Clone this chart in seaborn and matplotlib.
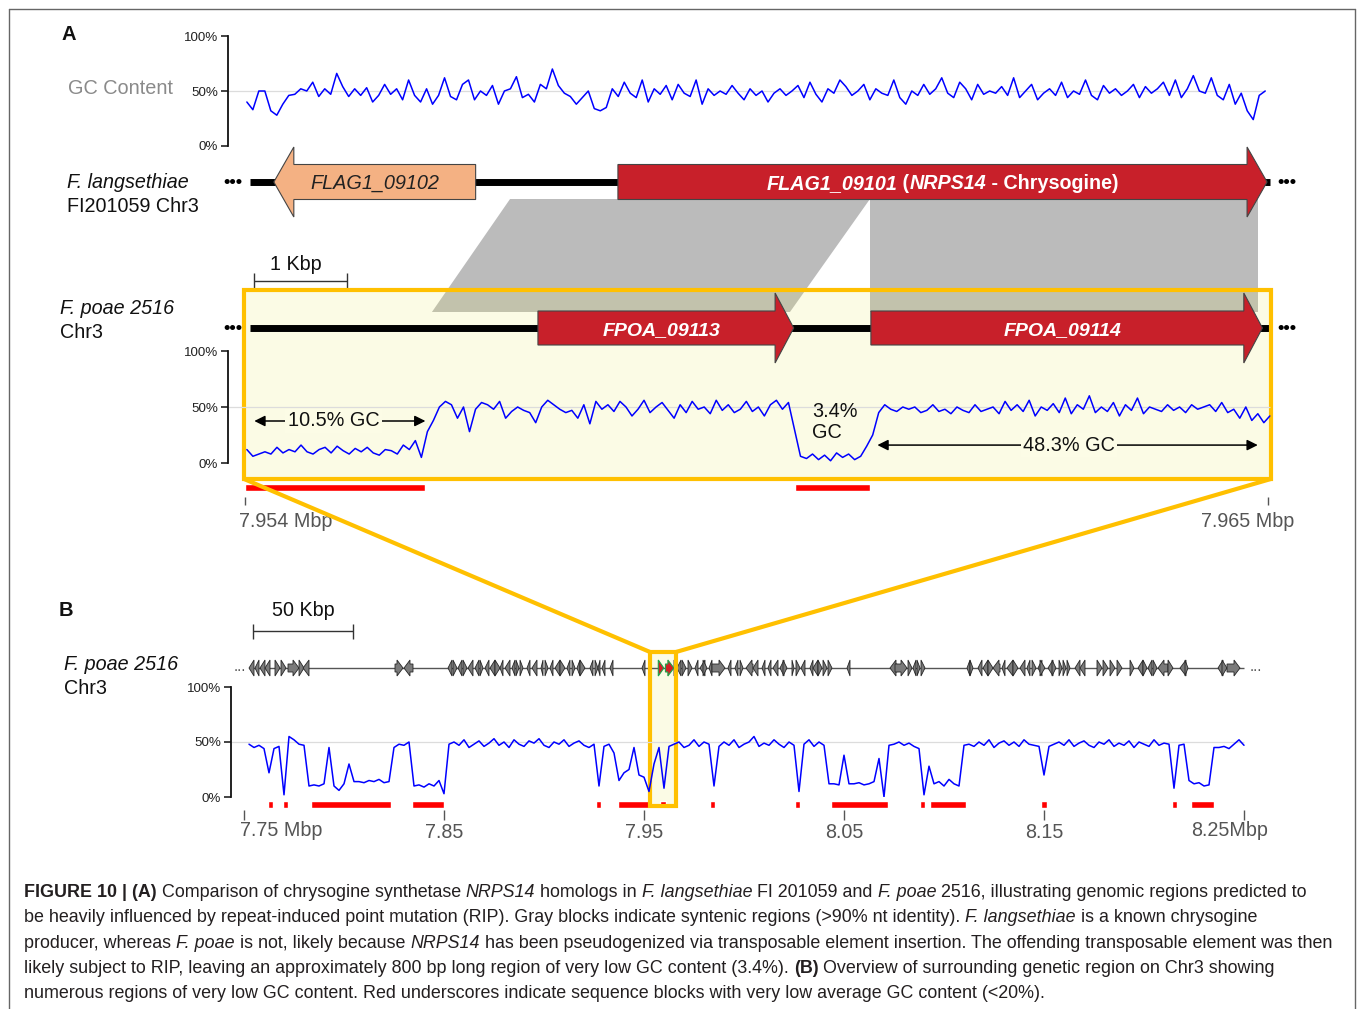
import numpy as np
import matplotlib
matplotlib.use("Agg")
import matplotlib.pyplot as plt
import seaborn as sns
from matplotlib.patches import Polygon, Rectangle, ConnectionPatch
from matplotlib.lines import Line2D
from matplotlib.transforms import IdentityTransform
from matplotlib import font_manager as fm

# ---------------------------------------------------------------- data
# Panel A, GC content (%) of F. langsethiae window (x in kb, display-aligned)
gc_top = [40, 33, 50, 50, 32, 28, 38, 46, 47, 52,
          50, 58, 45, 52, 47, 66, 54, 45, 52, 46,
          53, 40, 46, 56, 47, 52, 42, 60, 46, 40,
          52, 38, 46, 62, 45, 42, 56, 60, 42, 50,
          46, 55, 38, 50, 52, 63, 44, 47, 40, 56,
          52, 70, 55, 48, 45, 38, 44, 50, 34, 32,
          35, 52, 45, 58, 48, 44, 60, 40, 52, 47,
          55, 42, 56, 48, 45, 60, 38, 52, 46, 50,
          47, 55, 48, 42, 52, 46, 50, 40, 48, 52,
          46, 50, 55, 44, 58, 47, 40, 52, 48, 60,
          54, 46, 50, 56, 42, 52, 48, 46, 60, 44,
          38, 50, 46, 56, 47, 52, 62, 48, 44, 58,
          52, 42, 56, 47, 50, 48, 54, 46, 62, 44,
          50, 56, 42, 48, 52, 46, 58, 44, 50, 47,
          60, 46, 42, 55, 48, 52, 46, 50, 56, 44,
          54, 48, 52, 58, 46, 60, 44, 52, 64, 50,
          48, 62, 46, 42, 56, 38, 48, 32, 24, 46, 50]
gc_top_range_kb = (7954.02, 7964.97)

# Panel A, GC content (%) of F. poae 2516 window
gc_mid = [12, 6, 8, 10, 8, 14, 9, 12, 10, 16,
          10, 8, 12, 14, 9, 15, 11, 8, 13, 10,
          14, 9, 7, 12, 11, 8, 16, 12, 20, 5,
          28, 38, 50, 55, 52, 40, 50, 28, 48, 54,
          52, 48, 55, 40, 46, 50, 47, 45, 36, 50,
          56, 52, 48, 45, 47, 40, 52, 35, 55, 48,
          52, 46, 55, 50, 42, 48, 56, 45, 50, 54,
          47, 40, 52, 45, 55, 48, 50, 44, 56, 47,
          52, 45, 48, 55, 46, 50, 42, 52, 56, 48,
          54, 30, 6, 4, 8, 3, 7, 2, 9, 5,
          8, 3, 6, 15, 25, 45, 52, 48, 46, 50,
          48, 50, 45, 47, 52, 46, 48, 44, 50, 47,
          45, 52, 46, 48, 50, 44, 55, 47, 52, 46,
          56, 42, 50, 47, 53, 45, 58, 44, 52, 48,
          60, 45, 50, 46, 54, 42, 52, 47, 58, 44,
          50, 48, 46, 52, 47, 50, 45, 52, 48, 50,
          52, 46, 54, 45, 48, 40, 50, 38, 44, 36, 42]
gc_mid_range_kb = (7954.02, 7965.02)

# Panel B, GC content (%) of F. poae 2516 Chr3 region (x in kb)
gc_b = [48, 45, 47, 44, 22, 44, 46, 2, 55, 52, 48, 47, 10, 11, 10, 12, 45, 10, 6, 12,
        30, 14, 14, 13, 15, 14, 16, 13, 14, 45, 48, 47, 50, 10, 11, 9, 12, 10, 15, 3,
        48, 50, 47, 52, 45, 48, 51, 46, 49, 53, 47, 50, 45, 52, 48, 46, 51, 49, 53, 47,
        45, 50, 48, 52, 46, 49, 51, 47, 45, 48, 10, 46, 48, 40, 15, 22, 25, 45, 20, 18,
        5, 30, 45, 8, 46, 48, 50, 45, 47, 52, 46, 50, 48, 10, 46, 50, 47, 52, 45, 48,
        50, 55, 46, 49, 47, 52, 48, 45, 50, 47, 5, 48, 52, 46, 50, 47, 12, 12, 11, 38,
        12, 12, 13, 11, 12, 14, 35, 0, 47, 48, 50, 47, 49, 46, 44, 2, 28, 12, 14, 10,
        16, 12, 10, 47, 48, 46, 50, 47, 52, 45, 49, 51, 47, 50, 46, 52, 48, 47, 46, 20,
        46, 48, 50, 47, 52, 46, 49, 51, 47, 45, 50, 48, 52, 46, 49, 47, 51, 45, 50, 48,
        46, 52, 47, 49, 48, 8, 47, 48, 15, 12, 13, 10, 11, 45, 45, 46, 44, 48, 52, 47]
gc_b_range_kb = (7752.5, 8250.0)

# Panel A genes
top_names = ["FLAG1_09102", "FLAG1_09101"]
top_start = [7954.31, 7958.01]
top_end = [7956.48, 7964.99]
top_strand = [-1, 1]
mid_names = ["FPOA_09113", "FPOA_09114"]
mid_start = [7957.15, 7960.73]
mid_end = [7959.90, 7964.94]
mid_strand = [1, 1]
track_a_range = (7954.05, 7965.02)

# synteny blocks: (top start, top end, bottom start, bottom end) in kb
syn_top_start = [7956.85, 7960.72]
syn_top_end = [7960.72, 7964.89]
syn_bot_start = [7956.01, 7960.72]
syn_bot_end = [7959.86, 7964.89]

# low-GC blocks (<20 %) in panel A
lowgc_a_start = [7954.00, 7959.91]
lowgc_a_end = [7955.94, 7960.72]
zoom_a = (7953.99, 7965.03)
a_ticks = [7954, 7965]
a_ticklabels = ["7.954 Mbp", "7.965 Mbp"]

# Panel B genes (start kb, end kb, strand)
b_genes = [
    (7752.5, 7755, -1), (7755.5, 7757.5, -1), (7758, 7760.5, -1), (7760.5, 7763, -1),
    (7765.5, 7768, 1), (7768.5, 7771, 1), (7772, 7777.5, 1), (7777.5, 7780, 1),
    (7779.5, 7782.5, -1), (7825.5, 7829.5, 1), (7830, 7834.5, -1),
    (7852, 7854, -1), (7854.5, 7856.5, 1), (7857, 7859, -1), (7859.5, 7861.5, 1),
    (7862, 7864.5, -1), (7865.5, 7867.5, -1), (7868, 7869.5, 1), (7870.5, 7872.5, -1),
    (7873, 7875.5, -1), (7875.5, 7878, 1), (7878, 7879.5, -1), (7880.5, 7883, -1),
    (7884, 7885.5, -1), (7886, 7887.5, 1), (7888, 7889.5, 1), (7891.5, 7893, -1),
    (7894, 7896.5, -1), (7898.5, 7899.5, -1), (7900.5, 7902, 1), (7903, 7904.5, -1),
    (7905.5, 7908, -1), (7908, 7910.5, 1), (7911.5, 7913, -1), (7914, 7915.5, 1),
    (7916.5, 7918, -1), (7918, 7920.5, 1), (7923, 7924.5, -1), (7925.5, 7927, 1),
    (7927, 7928, -1), (7929, 7930.5, -1), (7933, 7934.5, -1), (7949, 7950.5, -1),
    (7965, 7967, 1), (7966.5, 7968.5, -1), (7969, 7971, 1), (7972, 7974, 1),
    (7975.5, 7977, -1), (7978, 7980.5, -1), (7979.5, 7981.5, 1), (7982.5, 7984, -1),
    (7984, 7990.5, 1), (7992, 7993.5, -1), (7995.5, 7997, -1), (7998, 7999.5, 1),
    (8001, 8004.5, -1), (8004.5, 8007, -1), (8009, 8010.5, -1), (8012, 8013.5, -1),
    (8014.5, 8017, -1), (8018, 8020, -1), (8019.5, 8021.5, 1), (8024, 8025, 1),
    (8026, 8028, 1), (8028.5, 8030.5, -1), (8033, 8034.5, -1), (8034.5, 8037, -1),
    (8037, 8039, 1), (8039.5, 8041.5, 1), (8042, 8044, 1), (8051.5, 8053, -1),
    (8073, 8076.5, -1), (8075.5, 8081.5, 1), (8082, 8084, 1), (8084.5, 8086, -1),
    (8086.5, 8088, 1), (8088.5, 8090.5, 1),
    (8111.5, 8113, -1), (8113, 8114.5, 1), (8117, 8119, -1), (8119.5, 8122, -1),
    (8122, 8124.5, 1), (8124.5, 8128, -1), (8129, 8130.5, -1), (8131.5, 8134.5, -1),
    (8134.5, 8137, 1), (8138, 8140.5, -1), (8141.5, 8143, -1), (8144, 8146, 1),
    (8147, 8149, -1), (8148, 8150.5, 1), (8152, 8154.5, -1), (8154, 8156, 1),
    (8157.5, 8159, 1), (8159.5, 8161, 1), (8161.5, 8163, 1), (8165.5, 8168, -1),
    (8168, 8170.5, -1), (8176.5, 8179, 1), (8179.5, 8182, 1), (8183, 8185.5, 1),
    (8186.5, 8189, 1), (8193, 8195, 1), (8197, 8199.5, -1), (8199.5, 8201.5, 1),
    (8202, 8204, -1), (8204.5, 8206.5, 1), (8207, 8212, -1), (8212, 8214.5, 1),
    (8218, 8221, -1), (8220.5, 8222, 1), (8237, 8239.5, -1), (8239, 8241.5, 1),
    (8241.5, 8248, 1),
]
track_b_range = (7752.5, 8250.0)
lowgc_b_start = [7762, 7769.5, 7783.5, 7834, 7926, 7937, 7958, 7983, 8025.5, 8043.5,
                 8088, 8093, 8148.5, 8214, 8223.5]
lowgc_b_end = [7764.5, 7772, 7823.5, 7850, 7928.5, 7953, 7961, 7985.5, 8028, 8072,
               8090.5, 8111, 8151.5, 8216.5, 8235]
zoom_b = (7953.0, 7966.0)
b_ticks = [7750, 7850, 7950, 8050, 8150, 8250]
b_ticklabels = ["7.75 Mbp", "7.85", "7.95", "8.05", "8.15", "8.25Mbp"]

caption = [
    [("FIGURE 10 | (A)", "b"), (" Comparison of chrysogine synthetase ", "n"), ("NRPS14", "i"),
     (" homologs in ", "n"), ("F. langsethiae", "i"), (" FI 201059 and ", "n"), ("F. poae", "i"),
     (" 2516, illustrating genomic regions predicted to", "n")],
    [("be heavily influenced by repeat-induced point mutation (RIP). Gray blocks indicate syntenic "
      "regions (>90% nt identity). ", "n"), ("F. langsethiae", "i"), (" is a known chrysogine", "n")],
    [("producer, whereas ", "n"), ("F. poae", "i"), (" is not, likely because ", "n"), ("NRPS14", "i"),
     (" has been pseudogenized via transposable element insertion. The offending transposable "
      "element was then", "n")],
    [("likely subject to RIP, leaving an approximately 800 bp long region of very low GC content "
      "(3.4%). ", "n"), ("(B)", "b"), (" Overview of surrounding genetic region on Chr3 showing", "n")],
    [("numerous regions of very low GC content. Red underscores indicate sequence blocks with very "
      "low average GC content (<20%).", "n")],
]

# ---------------------------------------------------------------- style
sns.set_theme(style="white")
plt.rcParams["font.family"] = ["Liberation Sans", "DejaVu Sans"]


def has_font(name):
    try:
        fm.findfont(fm.FontProperties(family=name), fallback_to_default=False)
        return True
    except Exception:
        return False


NARROW = "Liberation Sans Narrow" if has_font("Liberation Sans Narrow") else "Liberation Sans"
NARROW_SIZE = 10.5 if NARROW == "Liberation Sans Narrow" else 9.6

RED = "#C8202A"
SALMON = "#F4B183"
YEL = "#FFC000"
BOXFILL = (0.925, 0.925, 0.39, 0.16)
BLUE = "#0000FF"
W, H = 1357, 1009
fig = plt.figure(figsize=(W / 100, H / 100), dpi=100)
fig.patch.set_facecolor("white")


def a_kb(px):
    return 7954 + (px - 245) / 93.0


def b_kb(px):
    return 7750 + (px - 244) / 2.0


def add_ax(x0, y0, x1, y1):
    ax = fig.add_axes([x0 / W, 1 - y1 / H, (x1 - x0) / W, (y1 - y0) / H])
    ax.patch.set_alpha(0)
    return ax


STY = {"n": ("normal", "normal"), "i": ("normal", "italic"),
       "b": ("bold", "normal"), "bi": ("bold", "italic")}
renderer = fig.canvas.get_renderer()


def run_width(s, size, sty):
    w, st = STY[sty]
    t1 = fig.text(0, 0, "|" + s + "|", fontsize=size, fontweight=w, fontstyle=st,
                  transform=IdentityTransform())
    t2 = fig.text(0, 0, "||", fontsize=size, fontweight=w, fontstyle=st,
                  transform=IdentityTransform())
    wd = t1.get_window_extent(renderer).width - t2.get_window_extent(renderer).width
    t1.remove()
    t2.remove()
    return wd


def draw_runs(xd, yd, runs, size, color, ha="left"):
    widths = [run_width(s, size, st) for s, st in runs]
    x = xd - (sum(widths) / 2 if ha == "center" else 0)
    for (s, st), wd in zip(runs, widths):
        w, sl = STY[st]
        fig.text(x, yd, s, fontsize=size, fontweight=w, fontstyle=sl, color=color,
                 ha="left", va="baseline", transform=IdentityTransform())
        x += wd


def gene_poly(s, e, strand, yc, body_h, head_h, head_len):
    hl = min(head_len, e - s)
    if strand > 0:
        b = e - hl
        return [(s, yc - body_h / 2), (b, yc - body_h / 2), (b, yc - head_h / 2), (e, yc),
                (b, yc + head_h / 2), (b, yc + body_h / 2), (s, yc + body_h / 2)]
    b = s + hl
    return [(e, yc - body_h / 2), (b, yc - body_h / 2), (b, yc - head_h / 2), (s, yc),
            (b, yc + head_h / 2), (b, yc + body_h / 2), (e, yc + body_h / 2)]


def gc_axes(x0, y0, x1, y1, kbmap, vals, rng, grid_end):
    ax = add_ax(x0, y0, x1, y1)
    xs = np.linspace(rng[0], rng[1], len(vals))
    sns.lineplot(x=xs, y=vals, ax=ax, color=BLUE, linewidth=1.1, estimator=None,
                 sort=False, legend=False, zorder=3)
    ax.hlines(50, kbmap(x0), grid_end, color="#dcdcdc", lw=0.9, zorder=1)
    ax.set_xlim(kbmap(x0), kbmap(x1))
    ax.set_ylim(0, 100)
    ax.set_xlabel("")
    ax.set_ylabel("")
    for s in ["top", "right", "bottom"]:
        ax.spines[s].set_visible(False)
    ax.spines["left"].set_linewidth(1.3)
    ax.spines["left"].set_color("#111111")
    ax.set_xticks([])
    ax.set_yticks([0, 50, 100])
    ax.set_yticklabels(["0%", "50%", "100%"])
    ax.tick_params(axis="y", left=True, direction="out", length=5, width=1.1, pad=2,
                   labelsize=NARROW_SIZE, color="#111111", labelcolor="#222222")
    for lab in ax.get_yticklabels():
        lab.set_fontfamily(NARROW)
    return ax


# ---------------------------------------------------------------- panel A
axA = add_ax(228, 140, 1300, 530)
axA.set_xlim(a_kb(228), a_kb(1300))
axA.set_ylim(530, 140)
axA.axis("off")

Y_TOP, Y_MID = 182, 328
# synteny blocks
for ts, te, bs, be in zip(syn_top_start, syn_top_end, syn_bot_start, syn_bot_end):
    axA.add_patch(Polygon([(ts, 199), (te, 199), (be, 312), (bs, 312)], closed=True,
                          facecolor="#BBBBBB", edgecolor="none", zorder=1))
# zoom box fill
axA.add_patch(Rectangle((zoom_a[0], 290), zoom_a[1] - zoom_a[0], 189, facecolor=BOXFILL,
                        edgecolor="none", zorder=2))
# tracks
for yc in (Y_TOP, Y_MID):
    axA.hlines(yc, track_a_range[0], track_a_range[1], color="black", lw=5, zorder=3)
    axA.text(track_a_range[0] - 0.08, yc, "\u2022\u2022\u2022", ha="right", va="center",
             fontsize=13, fontweight="bold", color="black", zorder=3)
    axA.text(track_a_range[1] + 0.08, yc, "\u2022\u2022\u2022", ha="left", va="center",
             fontsize=13, fontweight="bold", color="black", zorder=3)
# genes
for s, e, st, c in zip(top_start, top_end, top_strand, [SALMON, RED]):
    axA.add_patch(Polygon(gene_poly(s, e, st, Y_TOP, 35, 70, 0.215), closed=True,
                          facecolor=c, edgecolor="#444444", lw=0.8, zorder=4))
for s, e, st in zip(mid_start, mid_end, mid_strand):
    axA.add_patch(Polygon(gene_poly(s, e, st, Y_MID, 34, 70, 0.2), closed=True,
                          facecolor=RED, edgecolor="#444444", lw=0.8, zorder=4))
# box edge
axA.add_patch(Rectangle((zoom_a[0], 290), zoom_a[1] - zoom_a[0], 189, facecolor="none",
                        edgecolor=YEL, lw=3, zorder=6))
# low GC blocks
axA.broken_barh([(s, e - s) for s, e in zip(lowgc_a_start, lowgc_a_end)], (483.5, 7),
                facecolors="#FF0000", zorder=5)
# scale bar 1 kbp
sb0 = track_a_range[0] + 0.05
axA.hlines(281, sb0, sb0 + 1.0, color="#333333", lw=1)
axA.vlines([sb0, sb0 + 1.0], 273, 289, color="#333333", lw=1)
axA.text(sb0 + 0.45, 264, "1 Kbp", ha="center", va="center", fontsize=14.2, color="#111111")
# x ticks
axA.vlines(a_ticks, 497, 505, color="#555555", lw=1)
axA.text(a_ticks[0] - 0.06, 521, a_ticklabels[0], ha="left", va="center", fontsize=14.2,
         color="#555555")
axA.text(a_ticks[1] + 0.28, 521, a_ticklabels[1], ha="right", va="center", fontsize=14.2,
         color="#555555")

# gene labels
for s, e, nm in zip(top_start, top_end, top_names):
    xd, yd = axA.transData.transform(((s + e) / 2, Y_TOP))
    if nm == "FLAG1_09101":
        draw_runs(xd, yd - 7, [("FLAG1_09101", "bi"), (" (", "b"), ("NRPS14", "bi"),
                              (" - Chrysogine)", "b")], 14.2, "white", ha="center")
    else:
        draw_runs(xd, yd - 7, [(nm, "i")], 14.3, "#222222", ha="center")
for s, e, nm in zip(mid_start, mid_end, mid_names):
    xd, yd = axA.transData.transform(((s + e) / 2, Y_MID))
    draw_runs(xd - 4, yd - 7, [(nm, "bi")], 14, "white", ha="center")

# GC tracks of panel A
ax_gc1 = gc_axes(228, 36, 1300, 146, a_kb, gc_top, gc_top_range_kb, gc_top_range_kb[1])
ax_gc2 = gc_axes(228, 351, 1300, 463, a_kb, gc_mid, gc_mid_range_kb, gc_mid_range_kb[1])


# annotations on mid GC
def dbl_arrow(ax, x0, x1, y, label, xc):
    ax.annotate("", xy=(x0, y), xytext=(x1, y),
                arrowprops=dict(arrowstyle="<|-|>", color="black", lw=1.1, mutation_scale=16,
                                shrinkA=0, shrinkB=0), zorder=4)
    ax.text(xc, y, label, ha="center", va="center", fontsize=14.3, color="#111111", zorder=5,
            bbox=dict(boxstyle="square,pad=0.12", facecolor="#FCFCE6", edgecolor="none"))


dbl_arrow(ax_gc2, lowgc_a_start[0] + 0.1, lowgc_a_end[0], 37.5, "10.5% GC",
          (lowgc_a_start[0] + lowgc_a_end[0]) / 2 - 0.02)
dbl_arrow(ax_gc2, mid_start[1] + 0.07, syn_bot_end[1], 16, "48.3% GC",
          (mid_start[1] + syn_bot_end[1]) / 2 + 0.05)
ax_gc2.text(lowgc_a_start[1] + 0.19, 36.6, "3.4%\nGC", ha="left", va="center",
            fontsize=14.3, color="#111111", linespacing=1.15)

# ---------------------------------------------------------------- panel B
axB = add_ax(231, 595, 1290, 850)
axB.set_xlim(b_kb(231), b_kb(1290))
axB.set_ylim(850, 595)
axB.axis("off")
Y_B = 668
axB.add_patch(Rectangle((zoom_b[0], 652), zoom_b[1] - zoom_b[0], 154, facecolor=BOXFILL,
                        edgecolor="none", zorder=1))
axB.hlines(Y_B, track_b_range[0], track_b_range[1], color="#555555", lw=1, zorder=2)
axB.text(track_b_range[0] - 1.5, Y_B - 1, "...", ha="right", va="center", fontsize=11,
         color="#555555")
axB.text(track_b_range[1] + 3, Y_B - 1, "...", ha="left", va="center", fontsize=11,
         color="#555555")
for s, e, st in b_genes:
    axB.add_patch(Polygon(gene_poly(s, e, st, Y_B, 8, 16, 3.0), closed=True,
                          facecolor="#7a7a7a", edgecolor="#262626", lw=0.6, zorder=3))
for s, e, st in zip(mid_start, mid_end, mid_strand):
    axB.add_patch(Polygon(gene_poly(s, e, st, Y_B, 8, 16, 3.0), closed=True,
                          facecolor="#D22027", edgecolor="#1FA34A", lw=0.8, zorder=3))
axB.add_patch(Rectangle((zoom_b[0], 652), zoom_b[1] - zoom_b[0], 154, facecolor="none",
                        edgecolor=YEL, lw=3, zorder=6))
axB.broken_barh([(s, e - s) for s, e in zip(lowgc_b_start, lowgc_b_end)], (801, 6.5),
                facecolors="#FF0000", zorder=5)
# scale bar 50 kbp
sbb = track_b_range[0] + 2
axB.hlines(631, sbb, sbb + 50, color="#333333", lw=1)
axB.vlines([sbb, sbb + 50], 624, 639, color="#333333", lw=1)
axB.text(sbb + 25, 611, "50 Kbp", ha="center", va="center", fontsize=14.2, color="#111111")
# x ticks
axB.vlines(b_ticks, 810, 820, color="#555555", lw=1)
for i, (t, lab) in enumerate(zip(b_ticks, b_ticklabels)):
    if i == 0:
        axB.text(t - 2, 831, lab, ha="left", va="center", fontsize=14.2, color="#555555")
    elif i == len(b_ticks) - 1:
        axB.text(t + 12, 831, lab, ha="right", va="center", fontsize=14.2, color="#555555")
    else:
        axB.text(t, 832, lab, ha="center", va="center", fontsize=14.2, color="#555555")

ax_gcb = gc_axes(231, 687, 1290, 797, b_kb, gc_b, gc_b_range_kb, gc_b_range_kb[1])

# zoom connectors
for xa, xb in ((zoom_a[0], zoom_b[0]), (zoom_a[1], zoom_b[1])):
    con = ConnectionPatch(xyA=(xa, 479), coordsA=axA.transData, xyB=(xb, 652),
                          coordsB=axB.transData, color=YEL, lw=3, zorder=0.5)
    fig.add_artist(con)


# ---------------------------------------------------------------- labels
def ftext(xp, yp, s, **kw):
    fig.text(xp / W, 1 - yp / H, s, **kw)


ftext(61, 35, "A", fontsize=14.5, fontweight="bold", va="center", color="#111111")
ftext(59, 611, "B", fontsize=14.5, fontweight="bold", va="center", color="#111111")
ftext(68, 89, "GC Content", fontsize=14.3, color="#8a8a8a", va="center")
ftext(67, 182, "F. langsethiae", fontsize=14.2, fontstyle="italic", va="center", color="#111111")
ftext(67, 206, "FI201059 Chr3", fontsize=14.2, va="center", color="#111111")
ftext(60, 308, "F. poae 2516", fontsize=14.2, fontstyle="italic", va="center", color="#111111")
ftext(60, 333, "Chr3", fontsize=14.2, va="center", color="#111111")
ftext(64, 664, "F. poae 2516", fontsize=14.2, fontstyle="italic", va="center", color="#111111")
ftext(64, 688, "Chr3", fontsize=14.2, va="center", color="#111111")

# caption
for k, runs in enumerate(caption):
    draw_runs(24, H - (897 + 25.3 * k), runs, 12.9, "#231F20")

# outer frame
for xs, ys in (([9, 9], [9, H + 5]), ([9, 1355], [9, 9]), ([1355, 1355], [9, H + 5])):
    fig.add_artist(Line2D([x / W for x in xs], [1 - y / H for y in ys],
                          transform=fig.transFigure, color="#666666", lw=1))

fig.savefig("out.png", dpi=100)
